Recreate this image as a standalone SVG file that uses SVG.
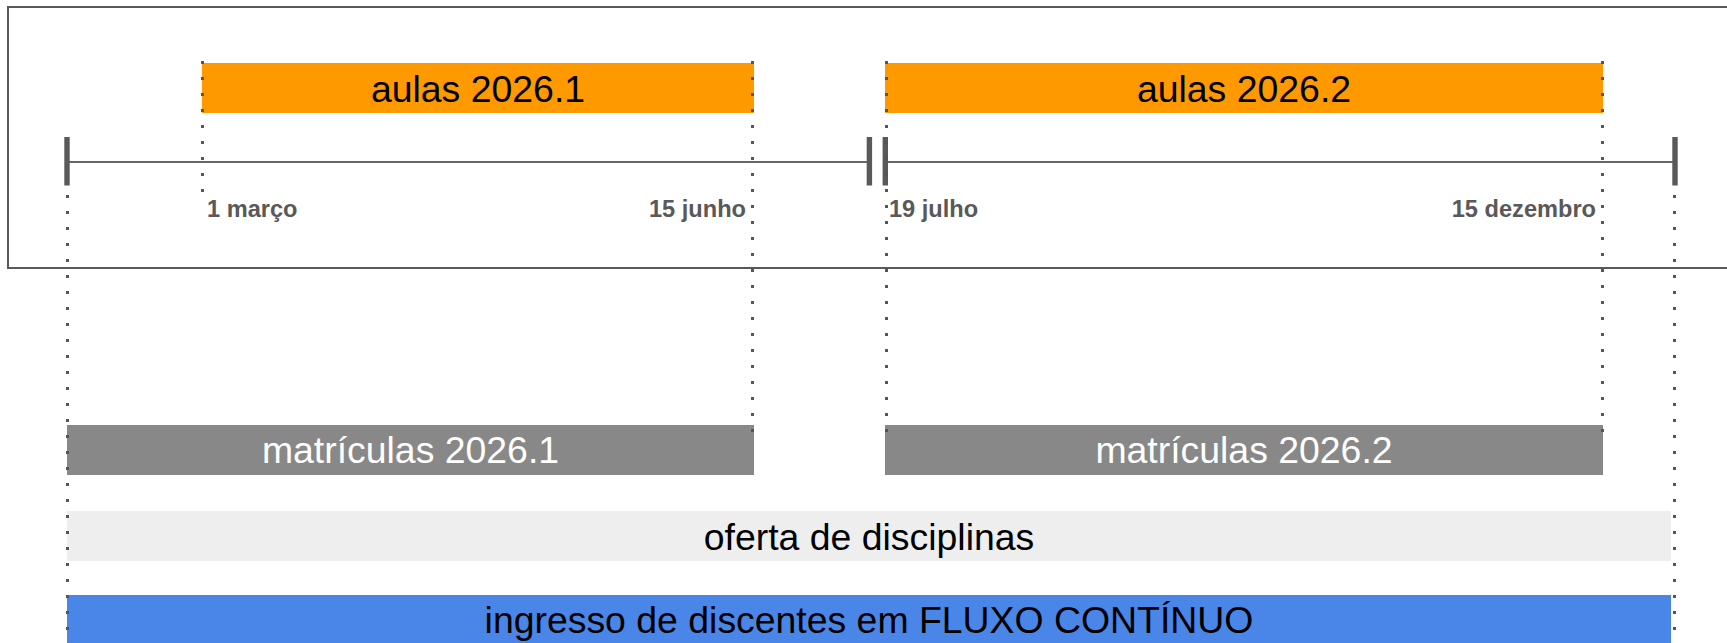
<svg xmlns="http://www.w3.org/2000/svg" width="1727" height="643" viewBox="0 0 1727 643">
<style>
.big{font-family:"Liberation Sans",Arial,sans-serif;font-size:37.4px;text-anchor:middle}
.lbl{font-family:"Liberation Sans",Arial,sans-serif;font-size:23.6px;font-weight:bold;fill:#595959}
.dot{stroke:#555555;stroke-width:3;stroke-dasharray:3 13;fill:none}
.tick{fill:#595959}
</style>
<rect width="1727" height="643" fill="#ffffff"/>
<g id="frame">
<rect x="8" y="7" width="1740" height="261" fill="none" stroke="#595959" stroke-width="2"/>
</g>
<g id="timeline">
<line x1="68" y1="162" x2="868" y2="162" stroke="#666666" stroke-width="2"/>
<line x1="886" y1="162" x2="1674" y2="162" stroke="#666666" stroke-width="2"/>
<rect class="tick" x="64.3" y="137" width="5.4" height="48.5"/>
<rect class="tick" x="866.7" y="137" width="5.4" height="48.5"/>
<rect class="tick" x="882.6" y="137" width="5.4" height="48.5"/>
<rect class="tick" x="1672.3" y="137" width="5.4" height="48.5"/>
</g>
<g id="aulas1">
<rect x="202" y="63" width="552" height="50" fill="#ff9900"/>
<text class="big" x="478" y="101.5" fill="#000000">aulas 2026.1</text>
</g>
<g id="aulas2">
<rect x="885" y="63" width="718" height="50" fill="#ff9900"/>
<text class="big" x="1244" y="101.5" fill="#000000">aulas 2026.2</text>
</g>
<g id="matriculas1">
<rect x="67" y="425" width="687" height="50" fill="#888888"/>
<text class="big" x="410.5" y="462.5" fill="#ffffff">matrículas 2026.1</text>
</g>
<g id="matriculas2">
<rect x="885" y="425" width="718" height="50" fill="#888888"/>
<text class="big" x="1244" y="462.5" fill="#ffffff">matrículas 2026.2</text>
</g>
<g id="oferta">
<rect x="67" y="511" width="1604" height="50" fill="#eeeeee"/>
<text class="big" x="869" y="549.5" fill="#000000">oferta de disciplinas</text>
</g>
<g id="ingresso">
<rect x="67" y="595" width="1604" height="50" fill="#4a86e8"/>
<text class="big" x="869" y="632.5" fill="#000000">ingresso de discentes em FLUXO CONTÍNUO</text>
</g>
<g id="labels">
<text class="lbl" x="207" y="216.5">1 março</text>
<text class="lbl" x="746" y="216.5" text-anchor="end">15 junho</text>
<text class="lbl" x="889" y="216.5">19 julho</text>
<text class="lbl" x="1596" y="216.5" text-anchor="end">15 dezembro</text>
</g>
<g id="connectors">
<line class="dot" x1="202.5" y1="61" x2="202.5" y2="194"/>
<line class="dot" x1="752.5" y1="61" x2="752.5" y2="433"/>
<line class="dot" x1="886.5" y1="61" x2="886.5" y2="433"/>
<line class="dot" x1="1602.5" y1="61" x2="1602.5" y2="433"/>
<line class="dot" x1="67.5" y1="195" x2="67.5" y2="631"/>
<line class="dot" x1="1674.5" y1="195" x2="1674.5" y2="631"/>
</g>
</svg>
